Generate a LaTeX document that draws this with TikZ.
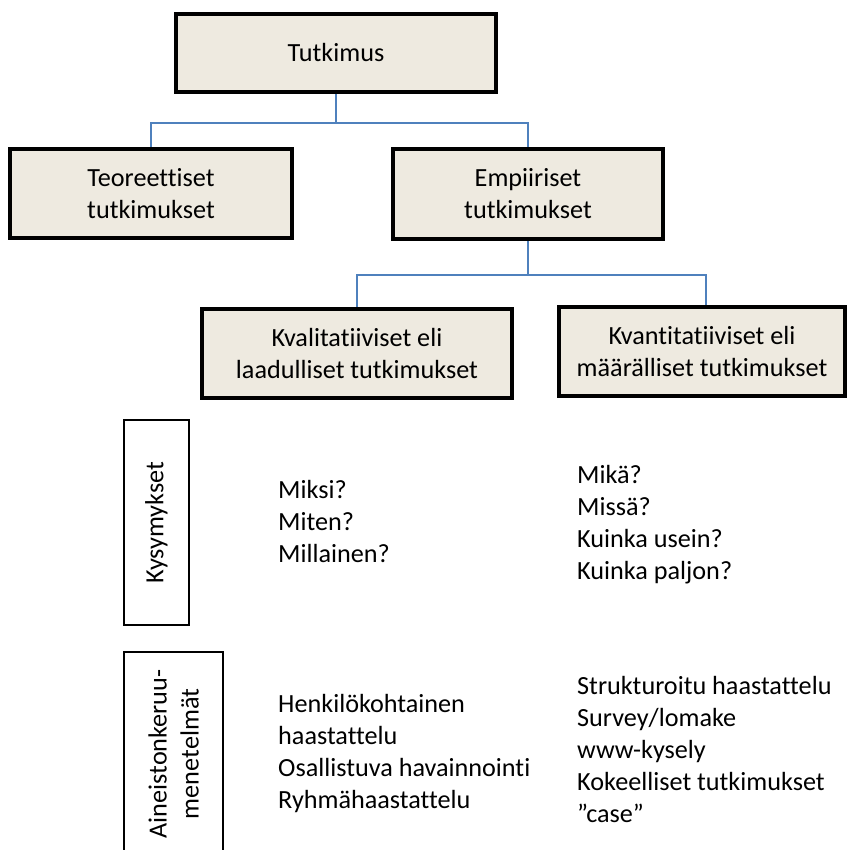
\documentclass[tikz,border=0pt]{standalone}
\usepackage{fontspec}
\setmainfont{Carlito}[Ligatures=NoCommon]
\definecolor{boxfill}{HTML}{EEEAE0}
\definecolor{linkblue}{HTML}{4F81BD}
\begin{document}
\begin{tikzpicture}[x=1pt,y=-1pt,
  every node/.style={font=\fontsize{26.2}{32}\selectfont, text=black},
  mainbox/.style={draw=black, line width=4pt, fill=boxfill, rectangle, align=center, inner sep=0pt},
  sidebox/.style={draw=black, line width=1.4pt, rectangle, inner sep=0pt},
  link/.style={draw=linkblue, line width=1.6pt},
  listtext/.style={anchor=north west, align=left, inner sep=0pt}
]
\useasboundingbox (0,0) rectangle (847,850);

\node[mainbox, minimum width=320pt, minimum height=78pt] (tut) at (336,53) {Tutkimus};
\node[mainbox, minimum width=282pt, minimum height=89pt] (teo) at (151,193.5) {Teoreettiset\\tutkimukset};
\node[mainbox, minimum width=270pt, minimum height=90pt] (emp) at (528,194) {Empiiriset\\tutkimukset};
\node[mainbox, minimum width=310pt, minimum height=89pt] (kval) at (357,353.5) {Kvalitatiiviset eli\\laadulliset tutkimukset};
\node[mainbox, minimum width=286pt, minimum height=89pt] (kvan) at (702,351.5) {Kvantitatiiviset eli\\määrälliset tutkimukset};

\draw[link] (tut.south) -- ++(0,29) coordinate (j1) -| (teo.north);
\draw[link] (j1) -| (emp.north);
\draw[link] (emp.south) -- ++(0,34) coordinate (j2) -| (kval.north);
\draw[link] (j2) -| ([xshift=4pt]kvan.north);

\node[sidebox, minimum width=65pt, minimum height=205pt] (kys) at (156.5,522.5) {};
\node[rotate=90, inner sep=0pt] (kyst) at (kys.center) {Kysymykset};

\node[sidebox, minimum width=99pt, minimum height=204pt] (ain) at (173.5,754) {};
\node[rotate=90, align=center, inner sep=0pt] (aint) at (ain.center) {Aineistonkeruu-\\menetelmät};

\node[listtext] (q1) at (278,480) {Miksi?\\Miten?\\Millainen?};
\node[listtext] (q2) at (577,465) {Mikä?\\Missä?\\Kuinka usein?\\Kuinka paljon?};
\node[listtext] (m1) at (278,694) {Henkilökohtainen\\haastattelu\\Osallistuva havainnointi\\Ryhmähaastattelu};
\node[listtext] (m2) at (577,676) {Strukturoitu haastattelu\\Survey/lomake\\www-kysely\\Kokeelliset tutkimukset\\”case”};
\end{tikzpicture}
\end{document}
